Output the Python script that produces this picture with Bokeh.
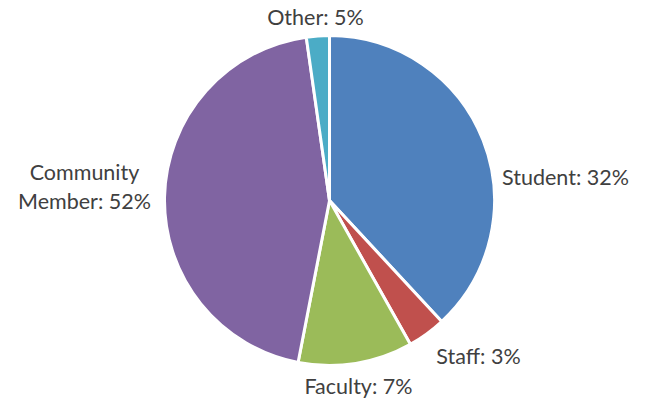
import math
from bokeh.plotting import figure
from bokeh.models import Range1d, ColumnDataSource
from bokeh.core.properties import value
from bokeh.embed import file_html
from bokeh.resources import INLINE

# data
categories = ["Student", "Staff", "Faculty", "Community Member", "Other"]
label_pct = [32, 3, 7, 52, 5]            # percentages printed in labels
slice_share = [38.1, 3.75, 11.2, 44.7, 2.25]  # slice sizes as drawn
colors = ["#4F81BD", "#C0504D", "#9BBB59", "#8064A2", "#4BACC6"]

W, H = 645, 403
cx, cy, R = 329, H - 200, 165

# layout for labels (pixel positions, top-down y)
label_xy = [(565, 176), (478, 355), (358, 385), (84, 186), (315, 16)]

total = sum(slice_share)
starts, ends = [], []
a = math.pi / 2
for s in slice_share:
    starts.append(a)
    a2 = a - 2 * math.pi * s / total
    ends.append(a2)
    a = a2

src = ColumnDataSource(dict(
    x=[cx] * len(categories), y=[cy] * len(categories),
    start=starts, end=ends, color=colors))

p = figure(width=W, height=H, output_backend="svg", toolbar_location=None,
           x_range=Range1d(0, W), y_range=Range1d(0, H), min_border=0)
p.axis.visible = False
p.grid.visible = False
p.outline_line_color = None
p.background_fill_color = "white"

p.wedge(x="x", y="y", radius=R, start_angle="start", end_angle="end",
        direction="clock", fill_color="color", line_color="white",
        line_width=3, source=src)

texts = []
for c, v in zip(categories, label_pct):
    name = "Community\nMember" if c == "Community Member" else c
    texts.append(f"{name}: {v}%")

tsrc = ColumnDataSource(dict(
    x=[xy[0] for xy in label_xy], y=[H - xy[1] for xy in label_xy], t=texts))
p.text(x="x", y="y", text="t", source=tsrc, text_align="center",
       text_baseline="middle", text_font=value("Lato"),
       text_font_size="21.5px", text_color="#404040", text_line_height=1.1)

open("out.html", "w").write(file_html(p, INLINE))
